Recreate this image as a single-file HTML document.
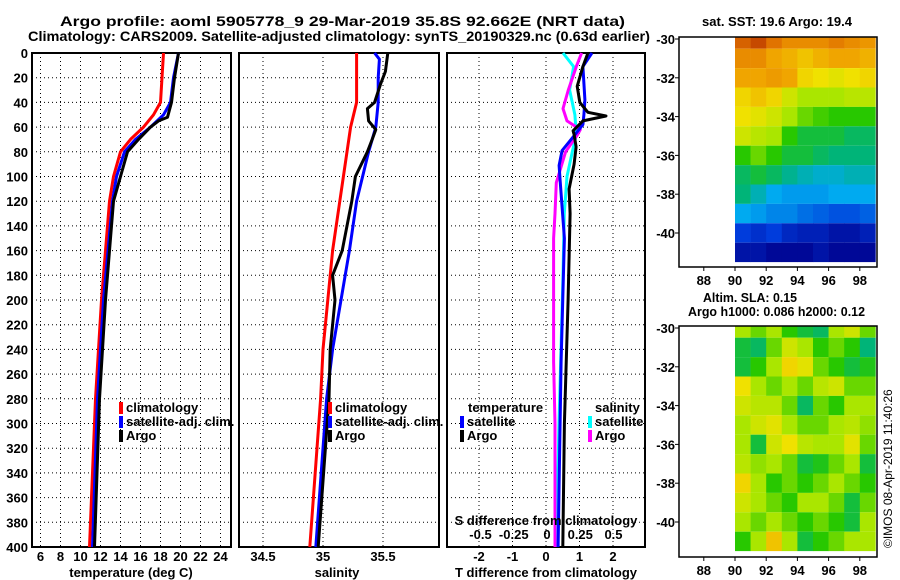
<!DOCTYPE html>
<html><head><meta charset="utf-8">
<style>
html,body{margin:0;padding:0;background:#fff;}
svg{display:block;font-family:"Liberation Sans",sans-serif;font-weight:bold;}
text{fill:#000;}
</style></head>
<body>
<svg id="fig" width="900" height="580" viewBox="0 0 900 580">
<text x="60" y="26" font-size="14" textLength="565" lengthAdjust="spacingAndGlyphs">Argo profile: aoml 5905778_9 29-Mar-2019 35.8S 92.662E (NRT data)</text>
<text x="28" y="41" font-size="14" textLength="622" lengthAdjust="spacingAndGlyphs">Climatology: CARS2009. Satellite-adjusted climatology: synTS_20190329.nc (0.63d earlier)</text>
<g id="p1"></g>
<g id="p2"></g>
<g id="p3"></g>
<g id="m1"></g>
<g id="m2"></g>
<text x="702" y="26" font-size="13" textLength="150" lengthAdjust="spacingAndGlyphs">sat. SST: 19.6 Argo: 19.4</text>
<text x="703" y="302" font-size="13" textLength="94" lengthAdjust="spacingAndGlyphs">Altim. SLA: 0.15</text>
<text x="688" y="316" font-size="13" textLength="177" lengthAdjust="spacingAndGlyphs">Argo h1000: 0.086 h2000: 0.12</text>
<text transform="translate(892,548) rotate(-90)" font-size="12" font-weight="normal">©IMOS 08-Apr-2019 11:40:26</text>
</svg>
<script>
// ---- data ----
const depthTicks=[0,20,40,60,80,100,120,140,160,180,200,220,240,260,280,300,320,340,360,380,400];
const tempTicks=[6,8,10,12,14,16,18,20,22,24];
const salTicks=[34.5,35,35.5];
const tdiffTicks=[-2,-1,0,1,2];
const sdiffTicks=[-0.5,-0.25,0,0.25,0.5];
const sdiffLabels=["-0.5","-0.25","0","0.25","0.5"];

const climTD=[0,40,50,60,70,80,100,120,200,280,400];
const climT=[18.3,18.0,17.3,16.3,15.0,14.0,13.3,12.9,12.1,11.5,10.9];
const satTD=[0,20,40,50,60,70,80,100,120,200,280,400];
const satT=[19.8,19.3,19.0,18.3,17.0,15.5,14.4,13.6,13.2,12.3,11.7,11.2];
const argoTD=[0,20,40,52,55,60,70,80,100,120,200,280,400];
const argoT=[19.8,19.4,19.1,18.7,17.8,17.0,15.8,14.7,14.0,13.3,12.5,11.9,11.4];

const climSD=[0,40,60,80,100,120,160,200,240,280,400];
const climS=[35.28,35.28,35.23,35.2,35.17,35.14,35.08,35.04,35.0,34.98,34.89];
const satSD=[0,5,20,40,60,80,100,120,160,200,240,280,400];
const satS=[35.43,35.47,35.46,35.46,35.44,35.38,35.33,35.28,35.22,35.15,35.08,35.03,34.94];
const argoSD=[0,15,25,40,45,55,62,70,80,100,120,160,180,200,240,280,400];
const argoS=[35.54,35.52,35.48,35.43,35.37,35.38,35.44,35.41,35.37,35.27,35.24,35.16,35.08,35.1,35.06,35.05,34.96];

const satDTD=[0,11,38,50,58,66,79,91,103,150,250,400];
const satDT=[1.37,1.1,1.16,1.13,1.1,0.87,0.48,0.39,0.42,0.55,0.45,0.36];
const argoDTD=[0,11,27,40,48,51,55,63,66,76,90,110,130,200,300,400];
const argoDT=[1.25,1.1,0.93,1.01,1.25,1.79,1.1,0.81,0.84,0.9,0.84,0.69,0.72,0.66,0.55,0.5];
const satDSD=[0,11,30,50,66,80,100,130,180,300,400];
const satDS=[0.12,0.2,0.17,0.21,0.22,0.19,0.15,0.13,0.12,0.09,0.07];
const argoDSD=[0,11,30,45,55,62,66,80,105,130,150,200,250,300,400];
const argoDS=[0.26,0.22,0.16,0.12,0.15,0.25,0.23,0.14,0.07,0.06,0.05,0.05,0.05,0.06,0.06];

const lonTicks=[88,90,92,94,96,98];
const latTicks=[-30,-32,-34,-36,-38,-40];
const gridLon=[90,91,92,93,94,95,96,97,98];
const gridLat=[-30,-31,-32,-33,-34,-35,-36,-37,-38,-39,-40,-41];
const sstGrid=[
[.92,.95,.9,.85,.85,.85,.88,.85,.83],
[.85,.85,.8,.78,.75,.78,.8,.8,.78],
[.8,.8,.82,.8,.72,.7,.68,.7,.72],
[.72,.75,.72,.65,.6,.6,.6,.62,.62],
[.7,.68,.65,.6,.55,.52,.5,.5,.5],
[.65,.62,.6,.5,.45,.45,.45,.42,.42],
[.5,.55,.5,.45,.45,.42,.4,.4,.4],
[.42,.45,.42,.38,.35,.33,.33,.35,.35],
[.4,.35,.3,.28,.28,.28,.3,.3,.3],
[.3,.28,.25,.25,.22,.2,.18,.18,.2],
[.15,.12,.15,.1,.08,.08,.05,.05,.08],
[.05,.05,.02,.02,.02,.05,.02,.02,.02]];
const slaGrid=[
[.6,.55,.6,.5,.45,.42,.6,.65,.55],
[.45,.42,.55,.65,.6,.5,.55,.5,.4],
[.45,.5,.6,.72,.68,.55,.5,.45,.48],
[.7,.6,.55,.6,.55,.62,.65,.55,.55],
[.65,.62,.62,.55,.42,.55,.5,.6,.6],
[.6,.65,.68,.6,.55,.55,.6,.62,.58],
[.6,.45,.65,.7,.62,.6,.6,.68,.55],
[.62,.58,.6,.55,.45,.48,.55,.6,.45],
[.72,.6,.5,.55,.5,.55,.6,.55,.5],
[.65,.6,.55,.5,.6,.6,.55,.45,.55],
[.6,.55,.6,.55,.5,.55,.5,.45,.6],
[.5,.6,.75,.6,.45,.5,.55,.6,.6]];

// ---- helpers ----
const NS="http://www.w3.org/2000/svg";
function mk(parent,tag,attrs,txt){const e=document.createElementNS(NS,tag);for(const k in attrs)e.setAttribute(k,attrs[k]);if(txt!==undefined)e.textContent=txt;parent.appendChild(e);return e;}
const Y0=53,Y1=547;
const yD=d=>Y0+(d/400)*(Y1-Y0);
const xT=t=>40.5+(t-6)*10;
const xS=s=>323+(s-35)*120;
const xDT=v=>546+v*33.5;
const xDS=v=>547+v*133;

function panel(g,x0,x1,vgrid,ylabels){
  depthTicks.forEach(d=>{
    const l=mk(g,'line',{x1:x0,x2:x1,y1:yD(d),y2:yD(d),stroke:'#000','stroke-width':1,'stroke-dasharray':'1,3'});
    
    
    if(ylabels){const t=mk(g,'text',{x:28,y:yD(d)+5,'font-size':13,'text-anchor':'end'},String(d));
      
      }
  });
  vgrid.forEach(x=>{const l=mk(g,'line',{x1:x,x2:x,y1:Y0,y2:Y1,stroke:'#000','stroke-width':1,'stroke-dasharray':'1,3'});
    
    });
  const r=mk(g,'rect',{x:x0,y:Y0,width:x1-x0,height:Y1-Y0,fill:'none',stroke:'#000','stroke-width':2});
  
  
}
function line(g,ds,vs,fx,color,name){
  const pts=ds.map((d,i)=>fx(vs[i]).toFixed(1)+','+yD(d).toFixed(1)).join(' ');
  const p=mk(g,'polyline',{points:pts,fill:'none',stroke:color,'stroke-width':3,'stroke-linejoin':'round'});
  
  
}
function legend(g,x,y,items){
  items.forEach((it,i)=>{
    const m=mk(g,'rect',{x:x,y:y+i*14-10,width:4,height:12,fill:it[1]});
    
    
    const t=mk(g,'text',{x:x+7,y:y+i*14,'font-size':13},it[0]);
    
    
  });
}
function xticks(g,ticks,fx,labels,y){
  ticks.forEach((v,i)=>{const t=mk(g,'text',{x:fx(v),y:y,'font-size':13,'text-anchor':'middle'},labels?labels[i]:String(v));
    
    });
}

// panel 1
const p1=document.getElementById('p1');
panel(p1,32,231,tempTicks.map(xT),true);
line(p1,climTD,climT,xT,'#ff0000','climatology-temperature-line');
line(p1,satTD,satT,xT,'#0000ff','satellite-temperature-line');
line(p1,argoTD,argoT,xT,'#000000','argo-temperature-line');
legend(p1,119,412,[['climatology','#ff0000'],['satellite-adj. clim.','#0000ff'],['Argo','#000']]);
xticks(p1,tempTicks,xT,null,561);
let t=mk(p1,'text',{x:131,y:577,'font-size':13,'text-anchor':'middle'},'temperature (deg C)');



// panel 2
const p2=document.getElementById('p2');
panel(p2,239,439,[263,323,383],false);
line(p2,climSD,climS,xS,'#ff0000','climatology-salinity-line');
line(p2,satSD,satS,xS,'#0000ff','satellite-salinity-line');
line(p2,argoSD,argoS,xS,'#000000','argo-salinity-line');
legend(p2,328,412,[['climatology','#ff0000'],['satellite-adj. clim.','#0000ff'],['Argo','#000']]);
xticks(p2,salTicks,xS,null,561);
t=mk(p2,'text',{x:337,y:577,'font-size':13,'text-anchor':'middle'},'salinity');



// panel 3
const p3=document.getElementById('p3');
panel(p3,447,645,tdiffTicks.map(xDT),false);
line(p3,satDSD,satDS,xDS,'#00ffff','satellite-salinity-diff-line');
line(p3,argoDSD,argoDS,xDS,'#ff00ff','argo-salinity-diff-line');
line(p3,satDTD,satDT,xDT,'#0000ff','satellite-temperature-diff-line');
line(p3,argoDTD,argoDT,xDT,'#000000','argo-temperature-diff-line');
t=mk(p3,'text',{x:468,y:412,'font-size':13},'temperature');


legend(p3,460,426,[['satellite','#0000ff'],['Argo','#000']]);
t=mk(p3,'text',{x:595,y:412,'font-size':13},'salinity');


legend(p3,588,426,[['satellite','#00ffff'],['Argo','#ff00ff']]);
t=mk(p3,'text',{x:546,y:525,'font-size':13,'text-anchor':'middle'},'S difference from climatology');


xticks(p3,sdiffTicks,xDS,sdiffLabels,539);
xticks(p3,tdiffTicks,xDT,null,561);
t=mk(p3,'text',{x:546,y:577,'font-size':13,'text-anchor':'middle'},'T difference from climatology');



// maps
function cmapSST(v){
  const stops=[[0,[0,0,140]],[.15,[0,60,220]],[.3,[0,170,240]],[.4,[0,180,120]],[.5,[40,200,0]],[.6,[170,230,0]],[.7,[240,225,0]],[.8,[240,165,0]],[.9,[225,115,0]],[1,[170,30,0]]];
  for(let i=1;i<stops.length;i++){if(v<=stops[i][0]){const a=stops[i-1],b=stops[i],f=(v-a[0])/(b[0]-a[0]);
    const c=a[1].map((q,k)=>Math.round(q+(b[1][k]-q)*f));return 'rgb('+c.join(',')+')';}}
  return 'rgb(170,30,0)';
}
function map(g,top,bottom,grid,name){
  const x0=679,x1=877;
  const xL=lon=>735+(lon-90)*15.6;
  const yL=lat=>top+2+(-30-lat)*19.4;
  grid.forEach((row,r)=>row.forEach((v,c)=>{
    const lon=gridLon[c],lat=gridLat[r];
    const y=Math.max(top,yL(lat)-9.7),yb=Math.min(bottom,yL(lat)+9.7);
    const e=mk(g,'rect',{x:xL(lon).toFixed(1),y:y.toFixed(1),width:Math.min(15.9,x1-xL(lon)).toFixed(1),height:(yb-y).toFixed(1),fill:cmapSST(v)});
    
    
  }));
  const fr=mk(g,'rect',{x:x0,y:top,width:x1-x0,height:bottom-top,fill:'none',stroke:'#000','stroke-width':1.5});
  
  
  latTicks.forEach(lat=>{
    const l=mk(g,'line',{x1:x0-4,x2:x0,y1:yL(lat),y2:yL(lat),stroke:'#000'});
    
    
    const tx=mk(g,'text',{x:x0-4,y:yL(lat)+5,'font-size':13,'text-anchor':'end'},String(lat));
    
    
  });
  lonTicks.forEach(lon=>{
    const l=mk(g,'line',{x1:xL(lon),x2:xL(lon),y1:bottom,y2:bottom+4,stroke:'#000'});
    
    
    const tx=mk(g,'text',{x:xL(lon),y:bottom+18,'font-size':13,'text-anchor':'middle'},String(lon));
    
    
  });
}
map(document.getElementById('m1'),37,267,sstGrid,'sst-map');
map(document.getElementById('m2'),326,557,slaGrid,'sla-map');
</script>
</body></html>
